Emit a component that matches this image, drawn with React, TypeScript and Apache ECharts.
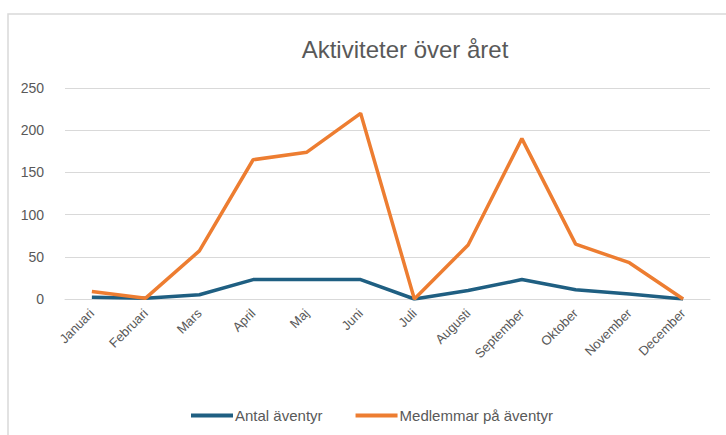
import React, { useEffect, useRef } from "react";
import * as echarts from "echarts";

const months = ["Januari", "Februari", "Mars", "April", "Maj", "Juni", "Juli", "Augusti", "September", "Oktober", "November", "December"];
const antalAventyr = [2, 1, 5, 23, 23, 23, 0, 10, 23, 11, 6, 0];
const medlemmarPaAventyr = [9, 1, 57, 165, 174, 220, 0, 64, 190, 65, 43, 0];
const yTicks = [0, 50, 100, 150, 200, 250];

const FONT = "'Liberation Sans', Arial, sans-serif";
const TXT = "#595959";

export default function App() {
  const ref = useRef<HTMLDivElement>(null);
  useEffect(() => {
    if (!ref.current) return;
    const chart = echarts.init(ref.current, undefined, { renderer: "svg" });
    chart.setOption({
      animation: false,
      backgroundColor: "#ffffff",
      title: {
        text: "Aktiviteter över året",
        left: 400,
        top: 32,
        textAlign: "center",
        textStyle: { fontFamily: FONT, fontSize: 24, fontWeight: "normal", color: TXT },
      },
      graphic: [
        {
          type: "rect",
          shape: { x: 8, y: 14, width: 740, height: 440 },
          style: { fill: "none", stroke: "#d9d9d9", lineWidth: 1.5 },
          silent: true,
        },
      ],
      legend: {
        left: 186,
        top: 403,
        itemWidth: 42,
        itemHeight: 4,
        itemGap: 33,
        icon: "rect",
        textStyle: { fontFamily: FONT, fontSize: 15, color: TXT, padding: [0, 0, 0, -3] },
        data: ["Antal äventyr", "Medlemmar på äventyr"],
      },
      grid: { left: 65, right: 16, top: 88, bottom: 136, containLabel: false },
      xAxis: {
        type: "category",
        data: months,
        boundaryGap: true,
        axisLine: { show: true, lineStyle: { color: "#d9d9d9", width: 1 } },
        axisTick: { show: false },
        axisLabel: {
          rotate: 45,
          margin: 12,
          interval: 0,
          fontFamily: FONT,
          fontSize: 13,
          color: TXT,
        },
      },
      yAxis: {
        type: "value",
        min: yTicks[0],
        max: yTicks[yTicks.length - 1],
        interval: 50,
        axisLine: { show: false },
        axisTick: { show: false },
        splitLine: { lineStyle: { color: "#d9d9d9", width: 1 } },
        axisLabel: { margin: 21, fontFamily: FONT, fontSize: 14, color: TXT },
      },
      series: [
        {
          name: "Antal äventyr",
          type: "line",
          data: antalAventyr,
          symbol: "none",
          color: "#1f5f82",
          lineStyle: { width: 3.5, color: "#1f5f82" },
        },
        {
          name: "Medlemmar på äventyr",
          type: "line",
          data: medlemmarPaAventyr,
          symbol: "none",
          color: "#ed7d31",
          lineStyle: { width: 3.5, color: "#ed7d31" },
        },
      ],
    });
    return () => chart.dispose();
  }, []);
  return <div ref={ref} style={{ position: "fixed", left: 0, top: 0, width: 726, height: 435 }} />;
}
